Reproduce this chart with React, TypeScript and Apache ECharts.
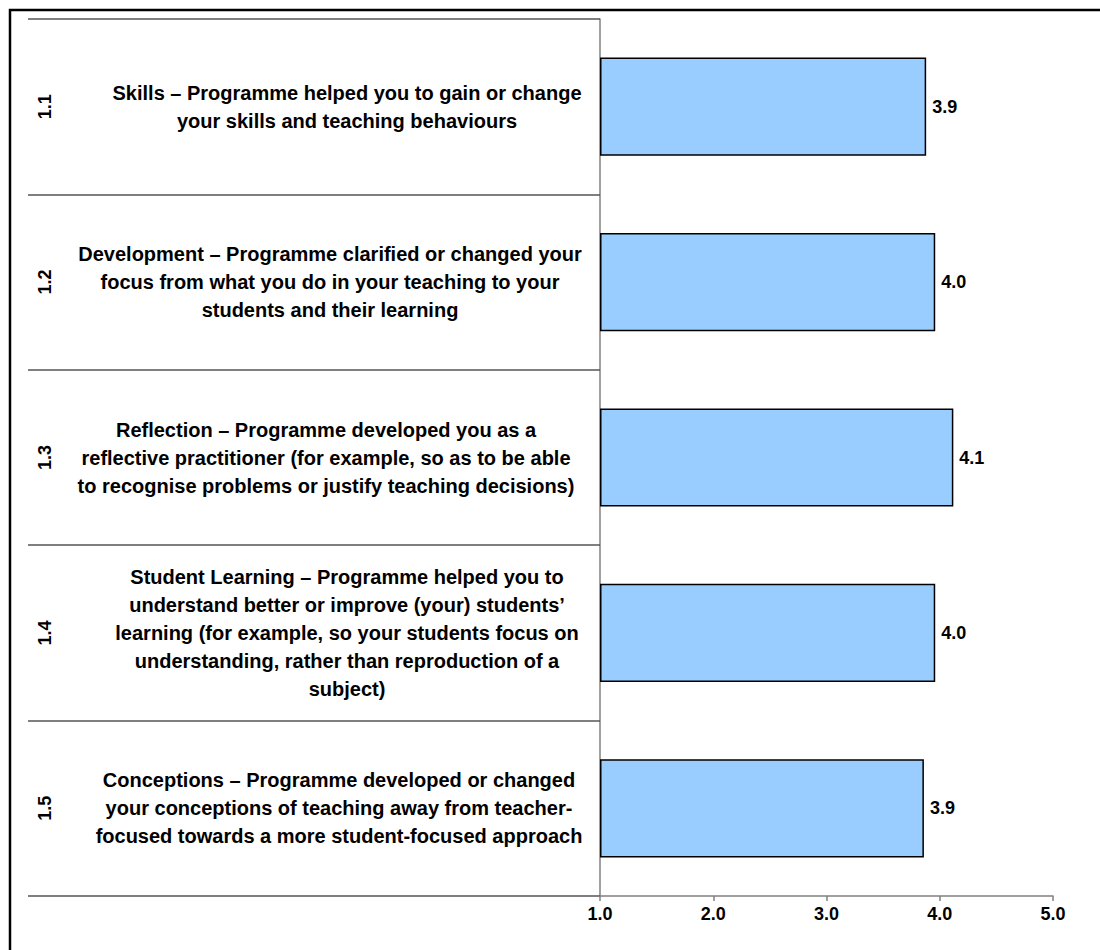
import React, { useEffect, useRef } from "react";
import * as echarts from "echarts";

const codes = ["1.1", "1.2", "1.3", "1.4", "1.5"];
const categories = [
  "Skills – Programme helped you to gain or change\nyour skills and teaching behaviours",
  "Development – Programme clarified or changed your\nfocus from what you do in your teaching to your\nstudents and their learning",
  "Reflection – Programme developed you as a\nreflective practitioner (for example, so as to be able\nto recognise problems or justify teaching decisions)",
  "Student Learning – Programme helped you to\nunderstand better or improve (your) students’\nlearning (for example, so your students focus on\nunderstanding, rather than reproduction of a\nsubject)",
  "Conceptions – Programme developed or changed\nyour conceptions of teaching away from teacher-\nfocused towards a more student-focused approach",
];
const values = [3.88, 3.96, 4.12, 3.96, 3.86];
const axisMin = 1;
const axisMax = 5;
const axisInterval = 1;

// layout only: leftward shift (px) of each wrapped label block
const labelShift = [0, 17, 21, 0, 8];

const FONT = "'Liberation Sans', Arial, sans-serif";

export default function App() {
  const ref = useRef<HTMLDivElement>(null);
  useEffect(() => {
    if (!ref.current) return;
    const chart = echarts.init(ref.current, undefined, { renderer: "svg" });
    const rich: Record<string, any> = {};
    labelShift.forEach((s, i) => {
      rich["c" + i] = {
        fontSize: 20,
        fontWeight: "bold",
        lineHeight: 28,
        color: "#000",
        fontFamily: FONT,
        padding: [0, s * 2, 0, 0],
      };
    });
    chart.setOption({
      animation: false,
      backgroundColor: "#ffffff",
      textStyle: { fontFamily: FONT },
      graphic: [
        {
          type: "rect",
          z: -10,
          shape: { x: 10, y: 10, width: 1100, height: 950 },
          style: { fill: "none", stroke: "#000", lineWidth: 2.5 },
        },
      ],
      grid: { left: 600, right: 47, top: 19, bottom: 54, containLabel: false },
      xAxis: {
        type: "value",
        min: axisMin,
        max: axisMax,
        interval: axisInterval,
        startValue: axisMin,
        axisLine: { show: true, lineStyle: { color: "#808080", width: 1.5 } },
        axisTick: { show: true, length: 5, lineStyle: { color: "#808080", width: 1.5 } },
        splitLine: { show: false },
        axisLabel: {
          formatter: (v: number) => v.toFixed(1),
          color: "#000",
          fontWeight: "bold",
          fontSize: 18,
          fontFamily: FONT,
          margin: 9,
        },
      },
      yAxis: [
        {
          type: "category",
          data: categories,
          inverse: true,
          axisLine: { show: true, lineStyle: { color: "#808080", width: 1.5 } },
          axisTick: { show: true, length: 572, lineStyle: { color: "#555", width: 1.5 } },
          axisLabel: {
            align: "center",
            margin: 253,
            lineHeight: 28,
            fontSize: 20,
            fontWeight: "bold",
            color: "#000",
            fontFamily: FONT,
            formatter: (v: string, i: number) => `{c${i}|${v}}`,
            rich,
          },
        },
        {
          type: "category",
          data: codes,
          inverse: true,
          position: "left",
          axisLine: { show: false },
          axisTick: { show: false },
          axisLabel: {
            rotate: 90,
            margin: 546,
            fontSize: 18,
            fontWeight: "bold",
            color: "#000",
            fontFamily: FONT,
          },
        },
      ],
      series: [
        {
          type: "bar",
          yAxisIndex: 0,
          data: values,
          barCategoryGap: "44%",
          itemStyle: { color: "#99CCFF", borderColor: "#000", borderWidth: 1.5 },
          label: {
            show: true,
            position: "right",
            distance: 6,
            formatter: (p: any) => Number(p.value).toFixed(1),
            color: "#000",
            fontWeight: "bold",
            fontSize: 18,
            fontFamily: FONT,
          },
        },
      ],
    });
    return () => chart.dispose();
  }, []);
  return (
    <div
      ref={ref}
      style={{ position: "absolute", left: 0, top: 0, width: 1100, height: 950, background: "#fff" }}
    />
  );
}
